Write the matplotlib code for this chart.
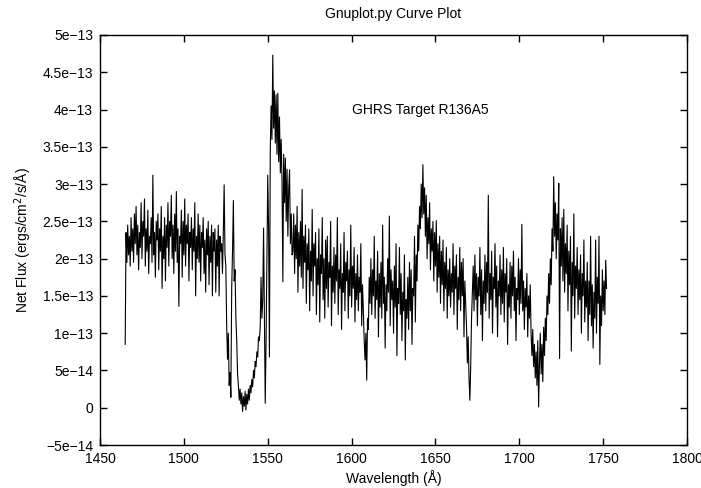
import numpy as np
import matplotlib
matplotlib.use("Agg")
import matplotlib.pyplot as plt

plt.rcParams["font.family"] = ["Liberation Sans", "DejaVu Sans"]

# GHRS spectrum: flux in units of 1e-13 ergs/cm^2/s/A,
# sampled every 0.5 A starting at 1465 A (one row = 5 A)
WAVE_START = 1465.0
WAVE_STEP = 0.5
flux_e13 = [
    0.85, 2.35, 1.95, 2.45, 2.05, 2.30, 1.90, 2.55, 2.10, 2.40,   # 1465
    1.95, 2.60, 2.20, 2.70, 2.05, 2.45, 1.85, 2.35, 2.15, 2.75,   # 1470
    2.00, 2.50, 2.30, 2.80, 1.90, 2.40, 2.10, 2.65, 1.80, 2.30,   # 1475
    2.20, 2.55, 1.95, 3.12, 2.05, 2.35, 1.75, 2.50, 2.25, 2.60,   # 1480
    1.85, 2.40, 2.10, 2.70, 1.60, 2.30, 2.00, 2.55, 1.70, 2.45,   # 1485
    2.15, 2.75, 1.90, 2.50, 2.30, 2.85, 2.00, 2.45, 1.80, 2.60,   # 1490
    2.10, 2.90, 1.95, 2.40, 1.36, 2.30, 2.20, 2.65, 1.75, 2.50,   # 1495
    2.05, 2.80, 1.90, 2.45, 2.20, 2.60, 1.70, 2.35, 2.15, 2.55,   # 1500
    1.85, 2.40, 2.10, 2.75, 1.50, 2.30, 2.00, 2.60, 1.95, 2.45,   # 1505
    1.70, 2.35, 2.15, 2.55, 1.80, 2.25, 1.55, 2.40, 2.05, 2.50,   # 1510
    1.65, 2.30, 1.95, 2.45, 1.50, 2.35, 2.10, 2.40, 1.55, 2.25,   # 1515
    1.90, 2.45, 1.50, 2.30, 2.10, 2.20, 1.80, 2.35, 2.99, 2.05,   # 1520
    1.90, 1.12, 0.65, 1.00, 0.30, 0.47, 0.14, 1.60, 2.10, 2.78,   # 1525
    1.70, 1.85, 1.20, 0.90, 0.45, 0.30, 0.10, 0.25, 0.05, 0.20,   # 1530
    -0.05, 0.15, 0.02, 0.22, -0.03, 0.18, 0.05, 0.25, 0.10, 0.30, # 1535
    0.20, 0.38, 0.28, 0.50, 0.40, 0.62, 0.55, 0.75, 0.68, 0.95,   # 1540
    0.90, 1.08, 1.75, 1.20, 1.45, 2.41, 1.30, 0.06, 0.90, 2.00,   # 1545
    3.12, 2.40, 0.68, 3.45, 4.05, 3.60, 4.73, 3.75, 4.25, 3.55,   # 1550
    4.20, 3.40, 4.22, 3.30, 3.90, 3.15, 3.60, 3.05, 1.69, 3.40,   # 1555
    2.75, 3.35, 2.50, 3.20, 2.30, 2.95, 3.19, 2.20, 2.60, 2.05,   # 1560
    2.10, 2.60, 1.80, 2.45, 2.00, 2.70, 1.55, 2.35, 1.90, 2.50,   # 1565
    1.75, 2.93, 1.60, 2.30, 1.95, 2.45, 1.40, 2.20, 1.85, 2.40,   # 1570
    1.30, 2.10, 1.70, 2.66, 1.50, 2.20, 1.90, 2.35, 1.25, 2.00,   # 1575
    1.65, 2.40, 1.15, 2.05, 1.80, 2.55, 1.45, 2.00, 1.20, 2.25,   # 1580
    1.60, 2.30, 1.35, 1.95, 1.75, 2.50, 1.10, 1.90, 1.55, 2.15,   # 1585
    1.40, 2.05, 1.70, 2.55, 1.25, 1.85, 1.60, 2.20, 1.05, 1.80,   # 1590
    1.55, 2.35, 1.30, 1.95, 1.70, 2.10, 1.20, 1.85, 1.50, 2.45,   # 1595
    1.35, 1.90, 1.60, 2.15, 1.15, 1.80, 1.45, 2.05, 1.30, 1.75,   # 1600
    1.55, 2.20, 1.10, 1.65, 1.30, 0.90, 0.64, 1.00, 0.37, 1.20,   # 1605
    1.05, 1.75, 1.40, 2.00, 1.25, 1.85, 1.50, 2.30, 1.20, 1.70,   # 1610
    1.45, 2.10, 0.95, 1.80, 1.35, 1.95, 1.20, 2.45, 1.40, 1.75,   # 1615
    0.80, 1.65, 1.30, 2.00, 1.55, 2.57, 1.10, 1.85, 1.45, 1.70,   # 1620
    1.00, 1.90, 1.35, 2.20, 0.70, 1.60, 1.40, 2.15, 1.25, 1.80,   # 1625
    0.90, 1.55, 1.30, 2.05, 0.64, 1.45, 1.20, 1.75, 1.05, 1.95,   # 1630
    1.30, 1.85, 0.85, 1.60, 1.50, 2.30, 1.15, 2.05, 1.70, 2.45,   # 1635
    2.10, 2.70, 2.40, 3.00, 2.55, 3.26, 2.60, 2.95, 2.30, 2.85,   # 1640
    2.00, 2.55, 2.20, 2.75, 1.85, 2.40, 2.10, 2.50, 1.70, 2.35,   # 1645
    1.90, 2.51, 1.55, 2.20, 1.75, 2.30, 1.40, 2.10, 1.65, 2.25,   # 1650
    1.30, 1.95, 1.60, 2.15, 1.20, 1.85, 1.50, 2.00, 1.35, 1.80,   # 1655
    1.55, 2.20, 1.25, 1.90, 1.60, 2.05, 1.05, 1.75, 1.45, 2.15,   # 1660
    1.30, 1.95, 1.50, 2.00, 0.95, 1.70, 1.40, 1.10, 0.60, 0.95,   # 1665
    0.40, 0.10, 0.55, 1.20, 1.55, 1.90, 1.30, 2.05, 1.45, 1.80,   # 1670
    1.10, 1.75, 1.50, 2.15, 1.25, 1.85, 0.90, 1.70, 1.40, 2.05,   # 1675
    1.30, 1.95, 1.55, 2.85, 1.20, 1.80, 1.45, 2.10, 1.00, 1.75,   # 1680
    1.60, 2.20, 1.35, 1.90, 0.95, 1.70, 1.50, 2.05, 1.25, 1.85,   # 1685
    1.40, 2.15, 1.15, 1.80, 1.55, 2.00, 0.85, 1.65, 1.35, 1.95,   # 1690
    1.20, 1.90, 1.50, 2.10, 1.30, 1.75, 0.90, 1.60, 1.45, 2.00,   # 1695
    1.25, 1.85, 1.40, 2.46, 1.30, 1.70, 1.05, 1.60, 1.35, 1.80,   # 1700
    0.95, 1.50, 1.20, 1.65, 1.00, 0.70, 1.05, 0.55, 0.85, 0.40,   # 1705
    0.75, 0.30, 0.90, 0.01, 0.60, 1.00, 0.45, 0.85, 0.35, 1.08,   # 1710
    0.70, 1.20, 0.90, 1.50, 1.25, 1.80, 1.40, 2.00, 1.65, 2.40,   # 1715
    2.10, 3.10, 2.30, 2.75, 2.00, 2.60, 2.25, 3.01, 0.66, 2.40,   # 1720
    1.90, 2.55, 1.70, 2.66, 1.55, 2.20, 1.80, 2.45, 1.30, 2.10,   # 1725
    1.65, 2.30, 0.76, 1.95, 1.50, 2.60, 1.20, 1.90, 1.60, 2.15,   # 1730
    1.25, 1.85, 1.45, 2.05, 1.00, 1.80, 1.50, 2.25, 1.15, 1.70,   # 1735
    1.35, 1.95, 0.90, 1.70, 1.25, 2.30, 1.10, 1.65, 0.80, 1.55,   # 1740
    1.20, 2.25, 1.00, 1.75, 1.40, 2.30, 0.58, 1.50, 1.10, 1.85,   # 1745
    1.30, 1.70, 1.25, 1.98, 1.60,                                 # 1750
]

x_ticks = [1450, 1500, 1550, 1600, 1650, 1700, 1750, 1800]
y_ticks = [-5e-14, 0, 5e-14, 1e-13, 1.5e-13, 2e-13, 2.5e-13, 3e-13,
           3.5e-13, 4e-13, 4.5e-13, 5e-13]
y_labels = ["-5e-14", "0", "5e-14", "1e-13", "1.5e-13", "2e-13", "2.5e-13",
            "3e-13", "3.5e-13", "4e-13", "4.5e-13", "5e-13"]

flux = np.array(flux_e13) * 1e-13
wave = WAVE_START + WAVE_STEP * np.arange(len(flux))

fig = plt.figure(figsize=(7.01, 4.88), dpi=100)
ax = fig.add_axes([0.1427, 0.0881, 0.8374, 0.8402])

ax.plot(wave, flux, color="black", linewidth=0.8)

ax.text(1600, 4.0e-13, "GHRS Target R136A5", ha="left", va="center", fontsize=10)

ax.set_xlim(1450, 1800)
ax.set_ylim(-5e-14, 5e-13)
ax.set_xticks(x_ticks)
ax.set_yticks(y_ticks)
ax.set_yticklabels([s.replace("-", "\u2212") for s in y_labels])
ax.tick_params(direction="in", length=5, width=1, top=True, right=True,
               labelsize=10, pad=5)
for sp in ax.spines.values():
    sp.set_linewidth(1)

ax.set_xlabel("Wavelength (\u00c5)", fontsize=10, labelpad=3)
ax.set_ylabel("Net Flux (ergs/cm$^2$/s/\u00c5)", fontsize=10, labelpad=6)
ax.set_title("Gnuplot.py Curve Plot", fontsize=10, pad=12)

fig.savefig("out.png", dpi=100)
